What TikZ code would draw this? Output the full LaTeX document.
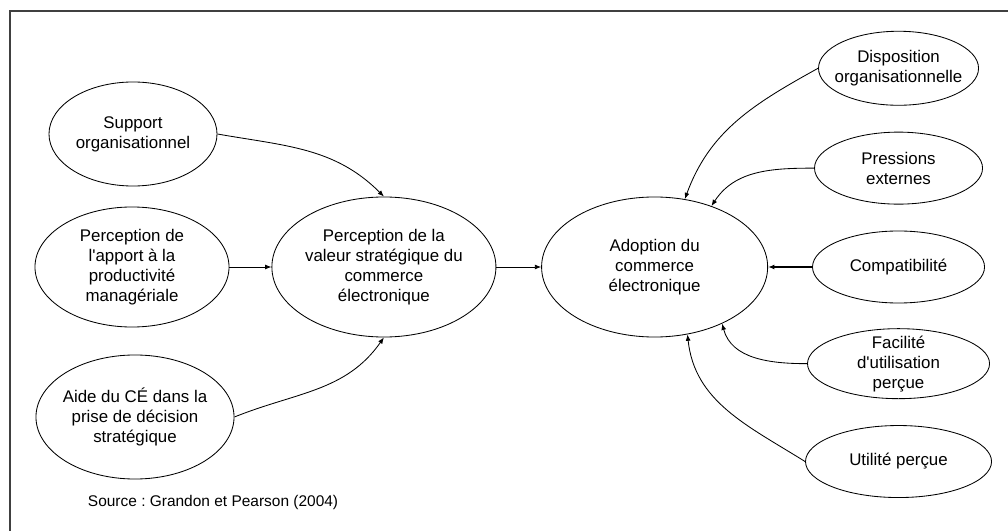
\documentclass[tikz,border=0pt]{standalone}
\usepackage{fontspec}
\setmainfont{Liberation Sans}
\usetikzlibrary{shapes.geometric, arrows.meta, positioning}
\frenchspacing

\begin{document}
\begin{tikzpicture}[x=0.025cm, y=0.025cm,
  oval/.style={draw, ellipse, inner sep=-5mm, align=center, line width=0.6pt, font=\fontsize{12}{14.2}\selectfont},
  link/.style={-{Latex[length=4.5pt,width=3.5pt]}, line width=0.6pt}]
  \useasboundingbox (0,0) rectangle (1008,-531);
  \draw[line width=0.9pt, black!75] (1008,-11) -- (10,-11) -- (10,-531);

  \node (support) [oval, minimum width=4.2cm, minimum height=2.6cm] at (133,-134) {Support\\organisationnel};
  \node (apport) [oval, minimum width=4.85cm, minimum height=3cm] at (132,-267) {Perception de\\l\textquotesingle apport à la\\productivité\\managériale};
  \node (aide) [oval, minimum width=4.95cm, minimum height=3.1cm] at (135,-417) {Aide du CÉ dans la\\prise de décision\\stratégique};
  \node (percv) [oval, minimum width=5.6cm, minimum height=3.5cm, right=1.05cm of apport] {Perception de la\\valeur stratégique du\\commerce\\électronique};
  \node (adopt) [oval, minimum width=5.65cm, minimum height=3.5cm, right=1.12cm of percv] {Adoption du\\commerce\\électronique};

  \node (compat) [oval, minimum width=4.3cm, minimum height=1.8cm, right=1.1cm of adopt] {Compatibilité};
  \node (press) [oval, minimum width=4.2cm, minimum height=1.8cm, above=0.65cm of compat] {Pressions\\externes};
  \node (dispo) [oval, minimum width=4cm, minimum height=1.85cm, above=0.65cm of press] {Disposition\\organisationnelle};
  \node (facil) [oval, minimum width=4.55cm, minimum height=1.75cm, below=0.62cm of compat] {Facilité\\d\textquotesingle utilisation\\perçue};
  \node (util) [oval, minimum width=4.65cm, minimum height=1.8cm, below=0.65cm of facil] {Utilité perçue};

  \node (source) [anchor=west, font=\fontsize{11}{13}\selectfont] at (83,-502) {Source : Grandon et Pearson (2004)};

  % vers la valeur strategique
  \draw[link] (support.east) to[out=-10, in=135] (percv.north);
  \draw[link] (apport) -- (percv);
  \draw[link] (aide.east) to[out=22, in=-125] (percv.south);
  \draw[link] (percv) -- (adopt);

  % vers l'adoption
  \draw[link] (dispo.west) to[out=-151, in=70] (adopt.66);
  \draw[link] (press.west) to[out=180, in=57] (adopt.47);
  \draw[link, line width=0.9pt] (compat) -- (adopt);
  \draw[link] (facil.west) to[out=180, in=-75] (adopt.-40);
  \draw[link] (util.west) to[out=148, in=-84] (adopt.-64);
\end{tikzpicture}
\end{document}
